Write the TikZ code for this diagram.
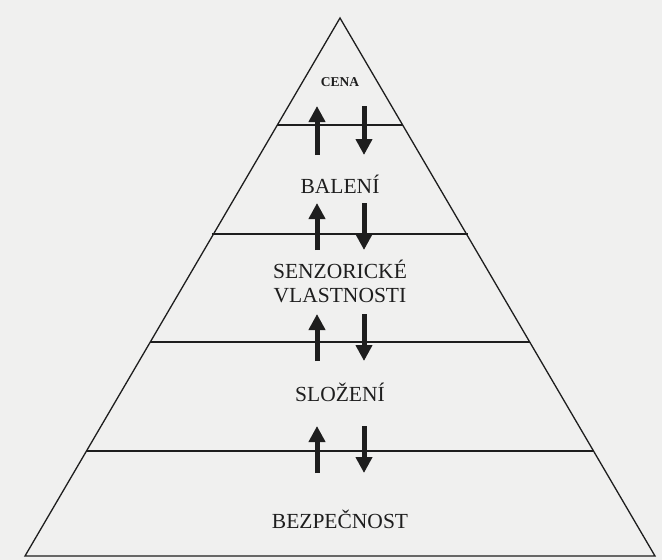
\documentclass[tikz,border=0pt]{standalone}
\usepackage{fontspec}
\setmainfont{Liberation Serif}
\usetikzlibrary{arrows.meta}
\definecolor{paper}{RGB}{240,240,239}
\definecolor{ink}{RGB}{30,30,30}
\tikzset{
  edge/.style={draw=ink, line width=1.3pt, line join=miter},
  lbl/.style={font=\fontsize{21.5}{25}\selectfont, text=ink, align=center, inner sep=0pt},
  smalllbl/.style={font=\fontsize{13.5}{15}\selectfont\bfseries, text=ink, inner sep=0pt},
  flow/.style={draw=ink, line width=5pt, -{Triangle[width=16pt,length=16pt]}}
}
\begin{document}
\begin{tikzpicture}[x=1pt,y=-1pt]
  \fill[paper] (0,0) rectangle (662,560);
  \useasboundingbox (0,0) rectangle (662,560);
  % pyramid
  \coordinate (apex) at (340,18);
  \coordinate (bl) at (25,556);
  \coordinate (br) at (655,556);
  \draw[edge] (bl) -- (apex) -- (br) -- cycle;
  % level lines
  \coordinate (l1a) at (277,125); \coordinate (l1b) at (403,125);
  \coordinate (l2a) at (212,234); \coordinate (l2b) at (468,234);
  \coordinate (l3a) at (150,342); \coordinate (l3b) at (530,342);
  \coordinate (l4a) at (87,451);  \coordinate (l4b) at (593,451);
  \draw[edge] (l1a) -- (l1b);
  \draw[edge] (l2a) -- (l2b);
  \draw[edge] (l3a) -- (l3b);
  \draw[edge] (l4a) -- (l4b);
  % labels
  \node[smalllbl] (cena) at (340,82) {CENA};
  \node[lbl] (baleni) at (340,184) {BALENÍ};
  \node[lbl] (senz) at (340,281) {SENZORICKÉ\\[-1pt]VLASTNOSTI};
  \node[lbl] (slozeni) at (340,392) {SLOŽENÍ};
  \node[lbl] (bezp) at (340,519) {BEZPEČNOST};
  % arrows
  \foreach \i/\t/\b in {1/106/155, 2/203/250, 3/314/361, 4/426/473}{
    \coordinate (u\i s) at (317,\b); \coordinate (u\i e) at (317,\t);
    \coordinate (d\i s) at (364,\t); \coordinate (d\i e) at (364,\b);
    \draw[flow] (u\i s) -- (u\i e);
    \draw[flow] (d\i s) -- (d\i e);
  }
\end{tikzpicture}
\end{document}
